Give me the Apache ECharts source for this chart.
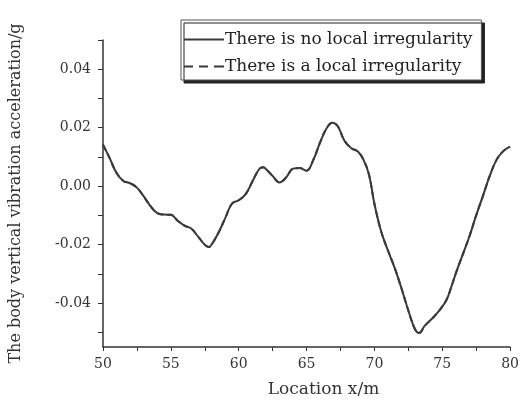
<!DOCTYPE html>
<html>
<head>
<meta charset="utf-8">
<script src="https://cdn.jsdelivr.net/npm/echarts@6/dist/echarts.min.js"></script>
<style>
  html, body { margin: 0; padding: 0; background: #fff; }
  #chart { width: 522px; height: 408px; }
</style>
</head>
<body>
<div id="chart"></div>
<script>
// location along track (m)
const location_m = [
  50, 50.5, 51, 51.5, 52, 52.5, 53, 53.5, 54, 54.5, 55, 55.5, 56, 56.5, 57, 57.5, 57.8,
  58, 58.5, 59, 59.5, 60, 60.5, 61, 61.5, 61.8, 62, 62.5, 63, 63.5, 64, 64.5, 65, 65.5,
  66, 66.5, 66.9, 67.3, 67.8, 68.3, 68.8, 69.2, 69.6, 70, 70.5, 71, 71.5, 72, 72.5, 73,
  73.3, 73.7, 74.2, 74.7, 75.3, 75.7, 76, 76.5, 77, 77.5, 78, 78.5, 79, 79.5, 80
];

// body vertical vibration acceleration (g)
const noIrregularity = [
  0.0142, 0.0095, 0.0045, 0.0018, 0.0010, -0.0005, -0.0035, -0.0068, -0.0092, -0.0097, -0.0098, -0.0118, -0.0135, -0.0145, -0.0172, -0.0200, -0.0208,
  -0.0200, -0.0160, -0.0110, -0.0060, -0.0048, -0.0028, 0.0015, 0.0058, 0.0065, 0.0059, 0.0035, 0.0013, 0.0030, 0.0060, 0.0062, 0.0053, 0.0090,
  0.0150, 0.0200, 0.0217, 0.0205, 0.0155, 0.0130, 0.0118, 0.0090, 0.0040, -0.0060, -0.0155, -0.0220, -0.0280, -0.0350, -0.0425, -0.0490,
  -0.0502, -0.0478, -0.0455, -0.0430, -0.0390, -0.0340, -0.0298, -0.0235, -0.0172, -0.0100, -0.0033, 0.0035, 0.0090, 0.0120, 0.0135
];
const withIrregularity = [
  0.0142, 0.0095, 0.0045, 0.0018, 0.0010, -0.0005, -0.0035, -0.0068, -0.0092, -0.0097, -0.0098, -0.0118, -0.0135, -0.0145, -0.0172, -0.0200, -0.0208,
  -0.0200, -0.0160, -0.0110, -0.0060, -0.0048, -0.0028, 0.0015, 0.0058, 0.0065, 0.0059, 0.0035, 0.0013, 0.0030, 0.0060, 0.0062, 0.0053, 0.0090,
  0.0150, 0.0200, 0.0217, 0.0205, 0.0155, 0.0130, 0.0118, 0.0090, 0.0040, -0.0060, -0.0155, -0.0220, -0.0280, -0.0350, -0.0425, -0.0490,
  -0.0502, -0.0478, -0.0455, -0.0430, -0.0390, -0.0340, -0.0298, -0.0235, -0.0172, -0.0100, -0.0033, 0.0035, 0.0090, 0.0120, 0.0135
];

// axis ticks / labels
const xTicks = [50, 52.5, 55, 57.5, 60, 62.5, 65, 67.5, 70, 72.5, 75, 77.5, 80];
const xLabels = [50, 55, 60, 65, 70, 75, 80];
const yTicks = [-0.05, -0.04, -0.03, -0.02, -0.01, 0, 0.01, 0.02, 0.03, 0.04, 0.05];
const yLabels = [-0.04, -0.02, 0, 0.02, 0.04];

const seriesNames = ["There is no local irregularity", "There is a local irregularity"];

const pairs = (ys) => location_m.map((x, i) => [x, ys[i]]);

const lineColor = "#3a3a3a";
const serif = "DejaVu Serif";

const option = {
  animation: false,
  backgroundColor: "#fff",
  grid: { left: 100, right: 7, top: 40, bottom: 61 },
  legend: {
    orient: "vertical",
    left: 181,
    top: 20,
    padding: [11, 9, 5, 3],
    itemGap: 10,
    itemWidth: 40,
    itemHeight: 2,
    backgroundColor: "#fff",
    borderColor: "#555",
    borderWidth: 1,
    shadowColor: "#222",
    shadowBlur: 0,
    shadowOffsetX: 3,
    shadowOffsetY: 3,
    textStyle: { fontFamily: serif, fontSize: 17, color: "#222", padding: [0, 0, 0, -4] },
    data: [
      { name: seriesNames[0], icon: "path://M0,0h40v2h-40z", itemStyle: { color: lineColor } },
      {
        name: seriesNames[1],
        icon: "path://M0,0h9v2h-9zM15,0h9v2h-9zM30,0h10v2h-10z",
        itemStyle: { color: lineColor }
      }
    ]
  },
  xAxis: {
    type: "value",
    min: 50,
    max: 80,
    name: "Location x/m",
    nameLocation: "middle",
    nameGap: 34,
    nameTextStyle: { fontFamily: serif, fontSize: 17, color: "#333", padding: [0, 0, 0, 34] },
    splitLine: { show: false },
    axisLine: { onZero: false, lineStyle: { color: "#333", width: 1.5 } },
    axisTick: { length: 4, customValues: xTicks, lineStyle: { color: "#333" } },
    axisLabel: {
      fontFamily: serif,
      fontSize: 14,
      color: "#333",
      margin: 10,
      customValues: xLabels
    }
  },
  yAxis: {
    type: "value",
    min: -0.055,
    max: 0.05,
    name: "The body vertical vibration acceleration/g",
    nameLocation: "middle",
    nameRotate: 90,
    nameGap: 79,
    nameTextStyle: { fontFamily: serif, fontSize: 16, color: "#333" },
    splitLine: { show: false },
    axisLine: { show: true, onZero: false, lineStyle: { color: "#333", width: 1.5 } },
    axisTick: { show: true, length: 5, customValues: yTicks, lineStyle: { color: "#333" } },
    axisLabel: {
      fontFamily: serif,
      fontSize: 14,
      color: "#333",
      margin: 12,
      customValues: yLabels,
      formatter: (v) => v.toFixed(2)
    }
  },
  series: [
    {
      name: seriesNames[0],
      type: "line",
      smooth: 0.4,
      symbol: "none",
      lineStyle: { color: lineColor, width: 2 },
      itemStyle: { color: lineColor },
      data: pairs(noIrregularity)
    },
    {
      name: seriesNames[1],
      type: "line",
      smooth: 0.4,
      symbol: "none",
      lineStyle: { color: lineColor, width: 2, type: [6, 4] },
      itemStyle: { color: lineColor },
      data: pairs(withIrregularity)
    }
  ]
};

const myChart = echarts.init(document.getElementById("chart"));
myChart.setOption(option);
</script>
</body>
</html>
